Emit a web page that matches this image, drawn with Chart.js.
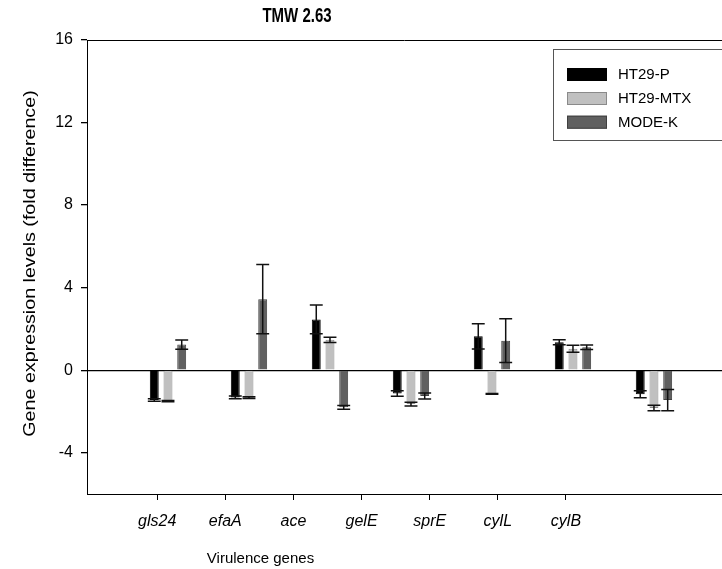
<!DOCTYPE html>
<html><head><meta charset="utf-8">
<script src="https://cdn.jsdelivr.net/npm/chart.js@4/dist/chart.umd.min.js"></script>
<style>html,body{margin:0;padding:0;background:#fff}#wrap{width:722px;height:569px;position:relative}</style>
</head><body><div id="wrap"><canvas id="c"></canvas></div>
<script>
const chartTitle = 'TMW 2.63';
const xAxisTitle = 'Virulence genes';
const yAxisTitle = 'Gene expression levels (fold difference)';
const categories = ['gls24', 'efaA', 'ace', 'gelE', 'sprE', 'cylL', 'cylB'];
const seriesNames = ['HT29-P', 'HT29-MTX', 'MODE-K'];
const ht29P      = [-1.45, -1.32, 2.46, -1.13, 1.64, 1.35, -1.17];
const ht29PErr   = [0.06, 0.07, 0.70, 0.13, 0.61, 0.12, 0.17];
const ht29MTX    = [-1.50, -1.33, 1.47, -1.64, -1.15, 1.04, -1.83];
const ht29MTXErr = [0.03, 0.04, 0.13, 0.09, 0.02, 0.17, 0.13];
const modeK      = [1.24, 3.44, -1.80, -1.25, 1.43, 1.11, -1.45];
const modeKErr   = [0.22, 1.68, 0.09, 0.15, 1.06, 0.11, 0.51];
const yTicks = [-4, 0, 4, 8, 12, 16];

const FONT = "'Liberation Sans', Arial, sans-serif";
Chart.defaults.font.family = FONT;
Chart.defaults.color = '#000';

function pts(vals) { return vals.map((v, i) => ({ x: i, y: v })); }

const errorBars = {
  id: 'errorBars',
  afterDatasetsDraw(chart) {
    const ctx = chart.ctx, ys = chart.scales.y;
    ctx.save();
    ctx.strokeStyle = '#111';
    ctx.lineWidth = 1.5;
    chart.data.datasets.forEach((ds, di) => {
      const meta = chart.getDatasetMeta(di);
      meta.data.forEach((bar, i) => {
        const v = ds.data[i].y, e = ds.errors[i];
        const x = bar.x;
        const y1 = ys.getPixelForValue(v + e), y2 = ys.getPixelForValue(v - e);
        const half = bar.width / 2 + 2;
        ctx.beginPath();
        ctx.moveTo(x, y1); ctx.lineTo(x, y2);
        ctx.moveTo(x - half, y1); ctx.lineTo(x + half, y1);
        ctx.moveTo(x - half, y2); ctx.lineTo(x + half, y2);
        ctx.stroke();
      });
    });
    ctx.restore();
  }
};

const frameAndText = {
  id: 'frameAndText',
  afterDraw(chart) {
    const ctx = chart.ctx, a = chart.chartArea;
    ctx.save();
    // top frame line
    ctx.strokeStyle = '#000'; ctx.lineWidth = 1;
    ctx.beginPath(); ctx.moveTo(a.left, a.top + 0.5); ctx.lineTo(a.right, a.top + 0.5); ctx.stroke();
    ctx.fillStyle = '#000';
    ctx.textAlign = 'center'; ctx.textBaseline = 'middle';
    // chart title (tall, condensed look)
    ctx.save();
    ctx.translate(297, 17);
    ctx.scale(1, 1.3);
    ctx.font = "bold 15px " + FONT;
    ctx.fillText(chartTitle, 0, 0);
    ctx.restore();
    // y axis title
    ctx.save();
    ctx.translate(31, (a.top + a.bottom) / 2 - 3.5);
    ctx.rotate(-Math.PI / 2);
    ctx.scale(1.23, 1);
    ctx.font = "16px " + FONT;
    ctx.fillText(yAxisTitle, 0, 0);
    ctx.restore();
    // x axis title
    ctx.font = "15px " + FONT;
    ctx.fillText(xAxisTitle, 260.5, 558.5);
    // legend
    const bx = 553.5, by = 49.5, bw = 180, bh = 91;
    ctx.strokeStyle = '#555'; ctx.lineWidth = 1;
    ctx.strokeRect(bx, by, bw, bh);
    const rows = [74.5, 98.5, 122.2];
    ctx.textAlign = 'left';
    ctx.font = "15px " + FONT;
    chart.data.datasets.forEach((ds, i) => {
      const cy = rows[i];
      ctx.fillStyle = ds.backgroundColor;
      ctx.fillRect(567, cy - 6.5, 40, 13);
      ctx.strokeStyle = ds.borderColor;
      ctx.strokeRect(567.5, cy - 6, 39, 12);
      ctx.fillStyle = '#000';
      ctx.fillText(ds.label, 618, cy + 0.5);
    });
    ctx.restore();
  }
};

const colors = ['#000000', '#c0c0c0', '#606060'];
const borders = ['#000000', '#8a8a8a', '#404040'];
const values = [ht29P, ht29MTX, modeK];
const errs = [ht29PErr, ht29MTXErr, modeKErr];

new Chart(document.getElementById('c'), {
  type: 'bar',
  data: {
    datasets: seriesNames.map((name, k) => ({
      label: name,
      data: pts(values[k]),
      errors: errs[k],
      backgroundColor: colors[k],
      borderColor: borders[k],
      borderWidth: 1,
      categoryPercentage: 0.605,
      barPercentage: 0.65,
      xAxisID: 'x',
      yAxisID: 'y'
    }))
  },
  options: {
    responsive: true,
    maintainAspectRatio: false,
    animation: false,
    layout: { padding: { top: 40, left: 0, right: 0, bottom: 0 } },
    plugins: { legend: { display: false }, title: { display: false }, tooltip: { enabled: false } },
    scales: {
      x: {
        type: 'linear', display: false, min: -1, max: 6.84, position: 'bottom',
        offset: false, grid: { offset: false }
      },
      xl: {
        type: 'linear', position: 'bottom', min: -1.03, max: 8.29,
        offset: false,
        afterBuildTicks(scale) { scale.ticks = categories.map((c, i) => ({ value: i })); },
        afterFit(scale) { scale.height = 75; },
        ticks: {
          autoSkip: false, maxRotation: 0, minRotation: 0, padding: 12,
          font: { size: 16, style: 'italic' },
          callback(value) { return categories[Math.round(value)]; }
        },
        grid: { display: true, offset: false, drawOnChartArea: false, drawTicks: true, tickLength: 6, color: '#000', lineWidth: 1 },
        border: { display: true, color: '#000', width: 1 }
      },
      y: {
        type: 'linear', position: 'left', min: -6, max: 16,
        afterBuildTicks(scale) { scale.ticks = yTicks.map(v => ({ value: v })); },
        afterFit(scale) { scale.width = 87; },
        ticks: { padding: 8, font: { size: 16 } },
        grid: {
          drawOnChartArea: true, drawTicks: true, tickLength: 6,
          color: (c) => (c.tick && c.tick.value === 0) ? '#000' : 'rgba(0,0,0,0)',
          tickColor: '#000', lineWidth: 1.3
        },
        border: { display: true, color: '#000', width: 1 }
      }
    }
  },
  plugins: [errorBars, frameAndText]
});
</script>
</body></html>
